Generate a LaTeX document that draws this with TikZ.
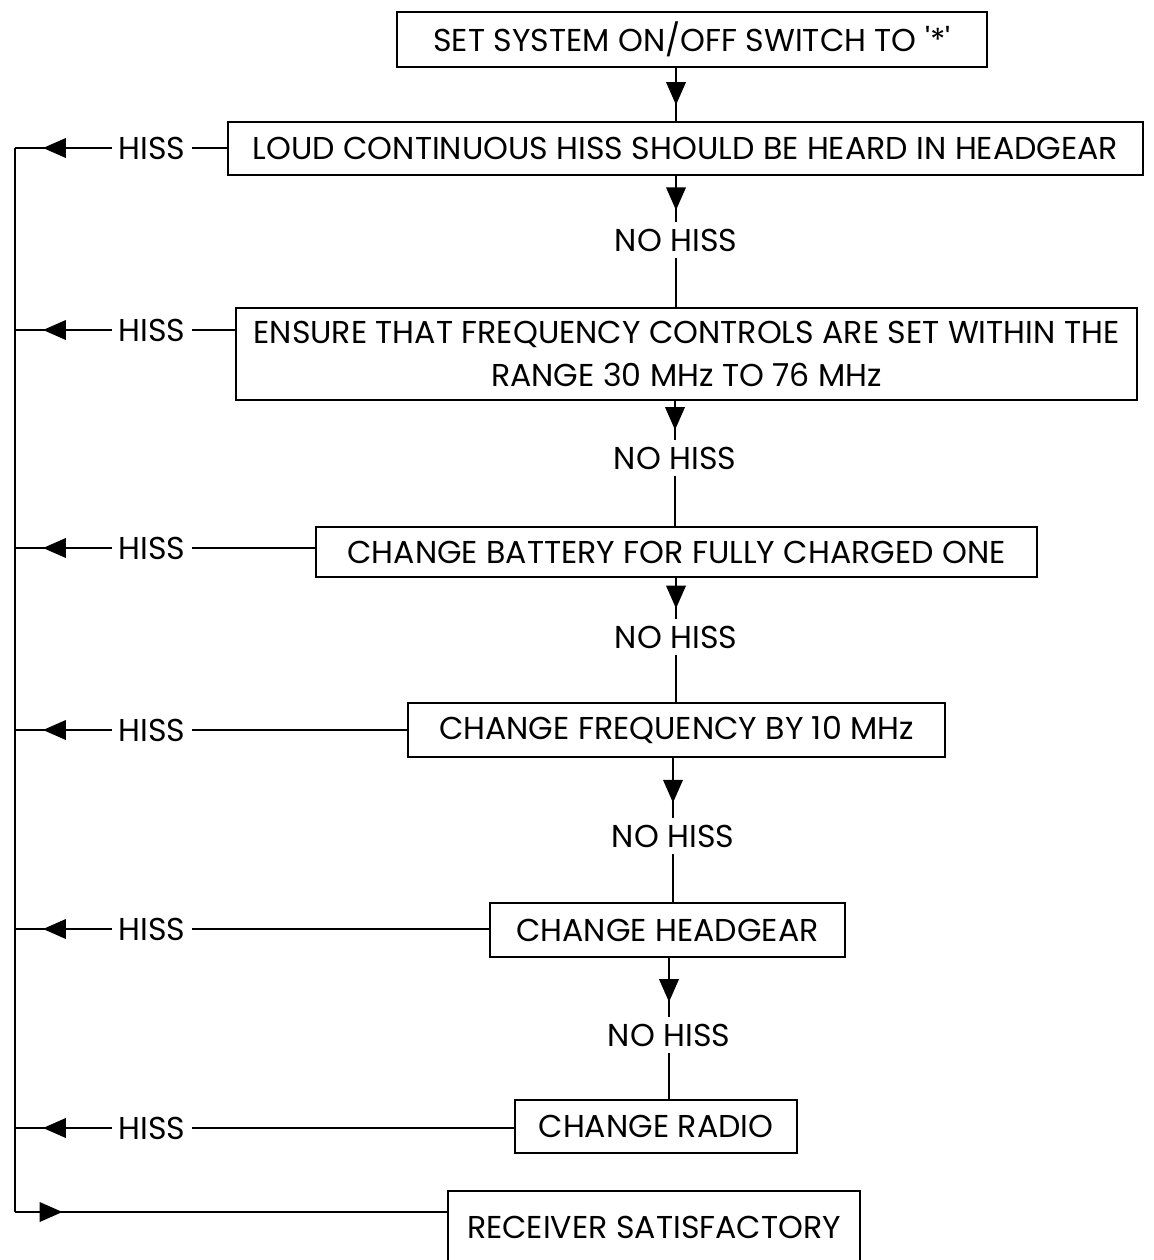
\documentclass[tikz,border=0pt]{standalone}
\usepackage{fontspec}
\setmainfont{Poppins}
\usetikzlibrary{arrows.meta,decorations.markings,positioning}

\tikzset{
  stepbox/.style={draw,line width=1.4pt,align=center,inner sep=0pt},
  flowtip/.style={decoration={markings,
      mark=at position #1 with {\arrow{Triangle[length=13pt,width=11pt]}}},
    postaction={decorate}},
}

\begin{document}
\begin{tikzpicture}[x=0.02cm,y=-0.02cm,line width=1.4pt,
    font=\fontsize{18}{24}\selectfont]
        \useasboundingbox (0,0) rectangle (1153,1260);
        % steps
        \node[stepbox,minimum width=11.8cm,minimum height=1.1cm] (b1) at (692,39.5) {SET SYSTEM ON/OFF SWITCH TO \textquotesingle*\textquotesingle};
        \node[stepbox,minimum width=18.3cm,minimum height=1.06cm] (b2) at (685.5,148.5) {LOUD CONTINUOUS HISS SHOULD BE HEARD IN HEADGEAR};
        \node[stepbox,minimum width=18.02cm,minimum height=1.84cm] (b3) at (686.5,354) {ENSURE THAT FREQUENCY CONTROLS ARE SET WITHIN THE\\ RANGE 30 MHz TO 76 MHz};
        \node[stepbox,minimum width=14.42cm,minimum height=1.0cm] (b4) at (676.5,552) {CHANGE BATTERY FOR FULLY CHARGED ONE};
        \node[stepbox,minimum width=10.74cm,minimum height=1.08cm] (b5) at (676.5,730) {CHANGE FREQUENCY BY 10 MHz};
        \node[stepbox,minimum width=7.1cm,minimum height=1.08cm] (b6) at (667.5,930) {CHANGE HEADGEAR};
        \node[stepbox,minimum width=5.64cm,minimum height=1.06cm] (b7) at (656,1126.5) {CHANGE RADIO};
        \node[stepbox,minimum width=8.24cm,text height=0.95cm,text depth=1.2cm,anchor=north] (b8) at (654,1190) {RECEIVER SATISFACTORY};
        % no hiss labels
        \foreach \i/\x/\y in {2/676/240,3/675/458,4/676/637,5/673/836,6/669/1035}{
            \node (n\i) at (\x,\y) {NO HISS};
        }
        % hiss labels
        \foreach \i/\y in {2/148,3/330,4/548,5/730,6/929,7/1128}{
            \node (h\i) at (152,\y) {HISS};
        }
        \coordinate (bustop) at (15,148);
        \coordinate (busend) at (15,1212);
        % main line
        \draw[flowtip=0.7] (b1.south -| n2) -- (b2.north -| n2);
        \foreach \i/\j in {2/3,3/4,4/5,5/6,6/7}{
            \draw[flowtip=0.75] (b\i.south -| n\i) -- (n\i.north);
            \draw (n\i.south) -- (b\j.north -| n\i);
        }
        % hiss returns
        \foreach \i in {2,...,7}{
            \draw (h\i.east) -- (h\i -| b\i.west);
            \draw[flowtip=0.71] (h\i.west) -- (h\i -| bustop);
        }
        \draw (bustop) -- (busend);
        \draw[flowtip=0.11] (busend) -- (busend -| b8.west);
    \end{tikzpicture}
\end{document}
